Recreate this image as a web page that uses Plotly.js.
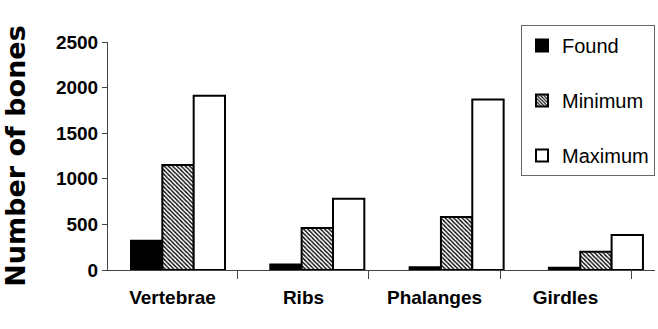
<!DOCTYPE html>
<html><head><meta charset="utf-8">
<script src="https://cdn.plot.ly/plotly-3.0.1.min.js"></script>
<style>html,body{margin:0;padding:0;background:#fff}#c{width:658px;height:329px}</style>
</head><body><div id="c"></div>
<script>
const categories = ["Vertebrae", "Ribs", "Phalanges", "Girdles"];
const found = [320, 60, 30, 25];
const minimum = [1150, 460, 580, 200];
const maximum = [1910, 780, 1870, 385];
const yTicks = [0, 500, 1000, 1500, 2000, 2500];

const sans = "Liberation Sans, Arial, sans-serif";
const line = {color: "#000", width: 2};
const traces = [
  {type: "bar", name: "Found", x: categories, y: found, legendgroup: "a",
   marker: {color: "#000", line: line}},
  {type: "bar", name: "Minimum", x: categories, y: minimum, legendgroup: "b",
   marker: {color: "#fff", line: line,
     pattern: {shape: "\\", fgcolor: "#000", bgcolor: "#fff", size: 3, solidity: 0.45}}},
  {type: "bar", name: "Maximum", x: categories, y: maximum, legendgroup: "c",
   marker: {color: "#fff", line: line}},
  // invisible carrier for the category label axis
  {type: "scatter", mode: "markers", x: categories, y: found, xaxis: "x2",
   marker: {opacity: 0}, showlegend: false, hoverinfo: "skip"}
];
const layout = {
  width: 658, height: 329,
  margin: {l: 108, r: 3, t: 42, b: 59},
  paper_bgcolor: "#fff", plot_bgcolor: "#fff",
  barmode: "group", bargap: 0.325, bargroupgap: 0,
  showlegend: true,
  legend: {x: 1.0, y: 1.075, xanchor: "right", yanchor: "top",
    bordercolor: "#666", borderwidth: 1, bgcolor: "#fff",
    font: {family: sans, size: 20, color: "#000"},
    tracegroupgap: 26, traceorder: "grouped", itemwidth: 30},
  xaxis: {type: "category", range: [-0.5025, 3.424], showline: true, linecolor: "#444", linewidth: 1,
    ticks: "", showticklabels: false,
    showgrid: false, zeroline: false, fixedrange: true},
  xaxis2: {type: "category", overlaying: "x", anchor: "y", side: "bottom",
    range: [-0.492, 3.683], showline: false,
    ticks: "outside", tickson: "boundaries", ticklen: 8, tickcolor: "#444",
    tickangle: 0, ticklabelstandoff: 14,
    tickfont: {family: sans, size: 19, color: "#000", weight: "bold"},
    showgrid: false, zeroline: false},
  yaxis: {range: [0, 2500], tickvals: yTicks, ticktext: yTicks.map(String),
    showline: true, linecolor: "#444", linewidth: 1,
    ticks: "outside", ticklen: 5, tickcolor: "#444",
    tickfont: {family: sans, size: 19, color: "#000", weight: "bold"},
    showgrid: false, zeroline: false,
    title: {text: "Number of bones", standoff: 22,
      font: {family: "DejaVu Sans, sans-serif", size: 27, color: "#000", weight: "bold"}}}
};
Plotly.newPlot("c", traces, layout, {staticPlot: true, displayModeBar: false});
</script></body></html>
